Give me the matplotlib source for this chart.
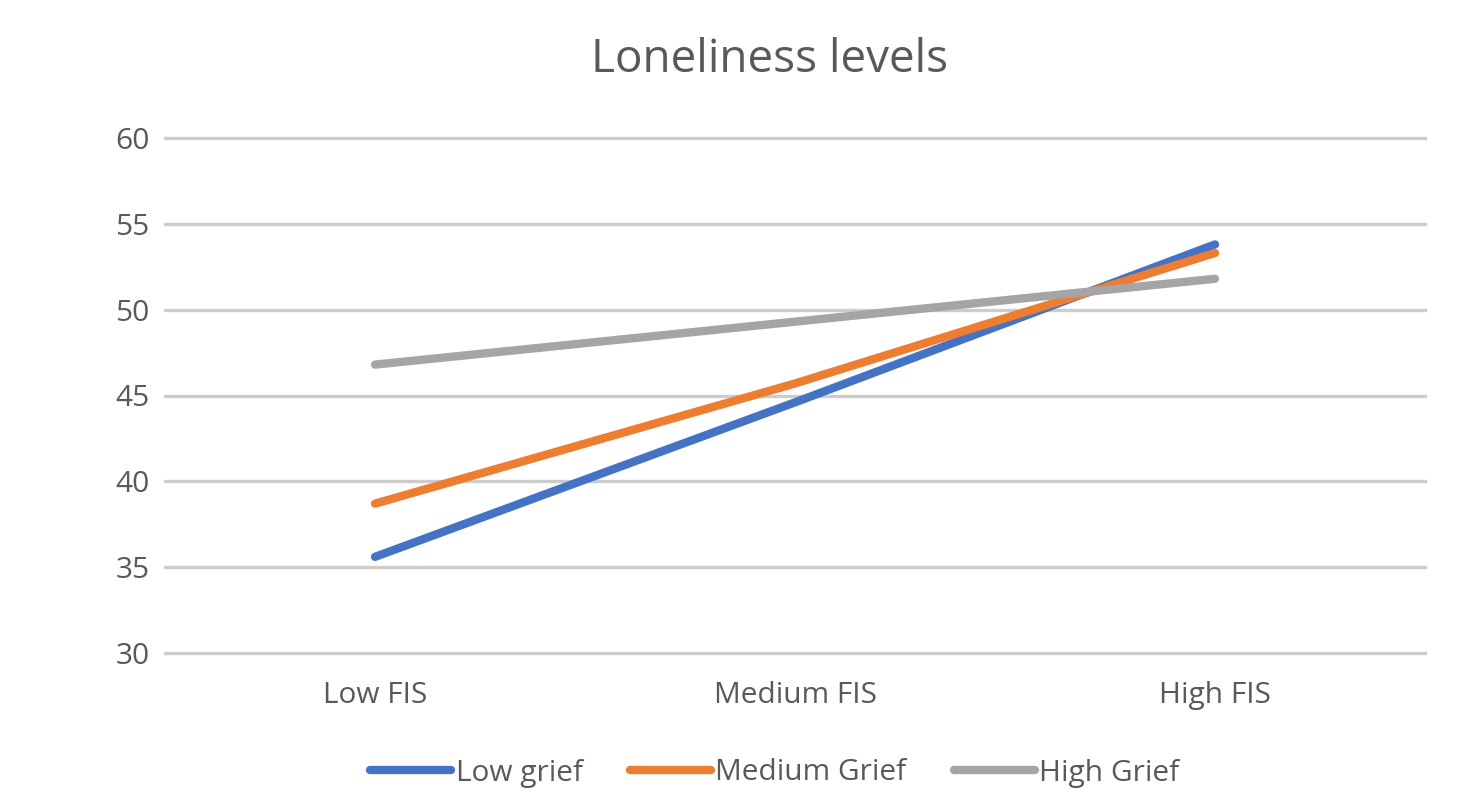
import matplotlib
matplotlib.use("Agg")
import matplotlib.pyplot as plt

categories = ["Low FIS", "Medium FIS", "High FIS"]
low_grief = [35.6, 44.6, 53.8]
medium_grief = [38.7, 45.7, 53.3]
high_grief = [46.8, 49.3, 51.8]
series_names = ["Low grief", "Medium Grief", "High Grief"]
series_colors = ["#4472C4", "#ED7D31", "#A5A5A5"]
y_ticks = [30, 35, 40, 45, 50, 55, 60]

plt.rcParams["font.family"] = ["Open Sans", "DejaVu Sans"]
text_color = "#595959"

fig = plt.figure(figsize=(14.75, 8.02), dpi=100)
ax = fig.add_axes([165 / 1475, 1 - 653 / 802, 1260 / 1475, 515 / 802])

x = list(range(len(categories)))
for vals, name, col in zip([low_grief, medium_grief, high_grief], series_names, series_colors):
    ax.plot(x, vals, color=col, lw=6, solid_capstyle="round", label=name, zorder=3)

ax.set_xlim(-0.5, len(categories) - 0.5)
ax.set_ylim(30, 60)
ax.set_yticks(y_ticks)
ax.set_xticks(x)
ax.set_xticklabels(categories)
ax.yaxis.grid(True, color="#CCCCCC", lw=2.4)
for gl in ax.get_ygridlines():
    gl.set_clip_on(False)
ax.set_axisbelow(True)
for s in ax.spines.values():
    s.set_visible(False)
ax.tick_params(axis="both", length=0, colors=text_color, labelsize=21.5)
ax.tick_params(axis="y", pad=11)
ax.tick_params(axis="x", pad=20)

fig.text(770 / 1475, 1 - 60 / 802, "Loneliness levels", ha="center", va="center",
         fontsize=33, color=text_color)

leg = fig.legend(loc="center", bbox_to_anchor=(775 / 1475, 1 - 773 / 802), ncol=3,
                 frameon=False, handlelength=2.7, handletextpad=0.15,
                 columnspacing=1.6, fontsize=21.5)
for t in leg.get_texts():
    t.set_color(text_color)

fig.savefig("out.png", dpi=100, facecolor="white")
